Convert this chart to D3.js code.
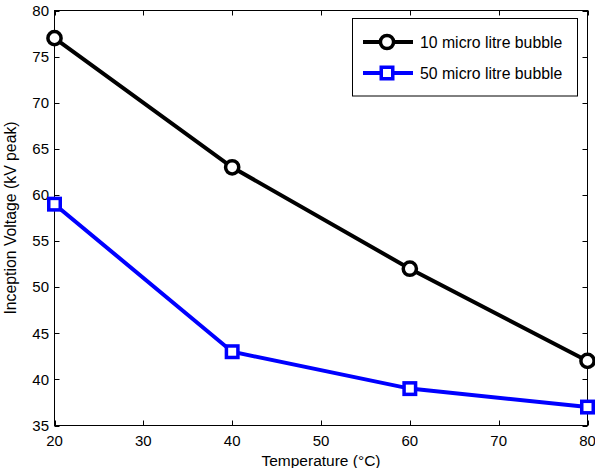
<!DOCTYPE html>
<html><head><meta charset="utf-8">
<script src="https://cdn.jsdelivr.net/npm/d3@7"></script>
<style>body{margin:0;background:#fff}svg{display:block}text{font-family:"Liberation Sans",Arial,sans-serif}</style>
</head><body>
<svg id="c" width="595" height="468"></svg>
<script>
const temps = [20, 40, 60, 80];
const v10 = [77, 63, 52, 42];
const v50 = [59, 43, 39, 37];
const xTicks = [20, 30, 40, 50, 60, 70, 80];
const yTicks = [35, 40, 45, 50, 55, 60, 65, 70, 75, 80];
const seriesNames = ["10 micro litre bubble", "50 micro litre bubble"];

const svg = d3.select("#c");
const L = 54.5, R = 587.5, T = 10.5, B = 425.5;
const x = d3.scaleLinear().domain([20, 80]).range([L, R]);
const y = d3.scaleLinear().domain([35, 80]).range([B, T]);

const tl = 5;
const g = svg.append("g");
g.append("rect").attr("x", L).attr("y", T).attr("width", R - L).attr("height", B - T)
  .attr("fill", "none").attr("stroke", "#000").attr("stroke-width", 1);
xTicks.forEach(t => {
  const px = Math.round(x(t)) + 0.5;
  g.append("line").attr("x1", px).attr("x2", px).attr("y1", B).attr("y2", B - tl).attr("stroke", "#000");
  g.append("line").attr("x1", px).attr("x2", px).attr("y1", T).attr("y2", T + tl).attr("stroke", "#000");
  g.append("text").attr("x", x(t)).attr("y", B + 20).attr("text-anchor", "middle")
    .attr("font-size", 15).text(t);
});
yTicks.forEach(t => {
  const py = Math.round(y(t)) + 0.5;
  g.append("line").attr("x1", L).attr("x2", L + tl).attr("y1", py).attr("y2", py).attr("stroke", "#000");
  g.append("line").attr("x1", R).attr("x2", R - tl).attr("y1", py).attr("y2", py).attr("stroke", "#000");
  g.append("text").attr("x", L - 5.5).attr("y", y(t) + 5.3).attr("text-anchor", "end")
    .attr("font-size", 15).text(t);
});
svg.append("text").attr("x", (L + R) / 2).attr("y", 466).attr("text-anchor", "middle")
  .attr("font-size", 15.5).text("Temperature (°C)");
svg.append("text").attr("transform", `translate(16,${(T + B) / 2}) rotate(-90)`)
  .attr("text-anchor", "middle").attr("font-size", 15.8).text("Inception Voltage (kV peak)");

const line = d3.line().x(d => x(d[0])).y(d => y(d[1]));
const d10 = temps.map((t, i) => [t, v10[i]]);
const d50 = temps.map((t, i) => [t, v50[i]]);

svg.append("path").datum(d10).attr("d", line).attr("fill", "none").attr("stroke", "#000").attr("stroke-width", 4);
svg.selectAll(".c10").data(d10).enter().append("circle")
  .attr("cx", d => x(d[0])).attr("cy", d => y(d[1])).attr("r", 6.6)
  .attr("fill", "#fff").attr("stroke", "#000").attr("stroke-width", 3.5);

svg.append("path").datum(d50).attr("d", line).attr("fill", "none").attr("stroke", "#0000ff").attr("stroke-width", 4);
const s = 11.5;
svg.selectAll(".s50").data(d50).enter().append("rect")
  .attr("x", d => x(d[0]) - s / 2).attr("y", d => y(d[1]) - s / 2).attr("width", s).attr("height", s)
  .attr("fill", "#fff").attr("stroke", "#0000ff").attr("stroke-width", 3.5);

const lg = svg.append("g");
lg.append("rect").attr("x", 352.5).attr("y", 18.5).attr("width", 225).attr("height", 77.5)
  .attr("fill", "#fff").attr("stroke", "#000").attr("stroke-width", 1);
const rows = [{c: "#000", y: 42, m: "circle"}, {c: "#0000ff", y: 73, m: "square"}];
rows.forEach((r, i) => {
  lg.append("line").attr("x1", 363).attr("x2", 413).attr("y1", r.y).attr("y2", r.y)
    .attr("stroke", r.c).attr("stroke-width", 4);
  if (r.m === "circle") {
    lg.append("circle").attr("cx", 387).attr("cy", r.y).attr("r", 6.6).attr("fill", "#fff")
      .attr("stroke", r.c).attr("stroke-width", 3.5);
  } else {
    lg.append("rect").attr("x", 387 - s / 2).attr("y", r.y - s / 2).attr("width", s).attr("height", s)
      .attr("fill", "#fff").attr("stroke", r.c).attr("stroke-width", 3.5);
  }
  lg.append("text").attr("x", 420).attr("y", r.y + 5.6).attr("font-size", 15.8).text(seriesNames[i]);
});
</script>
</body></html>
